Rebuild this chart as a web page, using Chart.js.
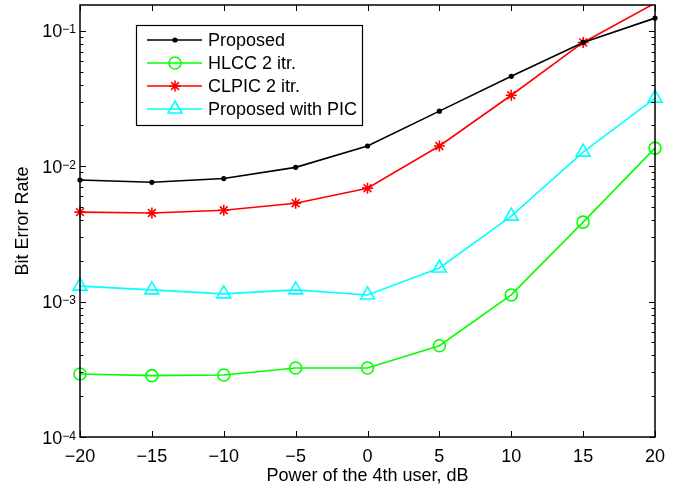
<!DOCTYPE html>
<html>
<head>
<meta charset="utf-8">
<script src="https://cdn.jsdelivr.net/npm/chart.js@4.4.1/dist/chart.umd.min.js"></script>
<style>
  html, body { margin: 0; padding: 0; background: #fff; }
  canvas { display: block; }
</style>
</head>
<body>
<canvas id="ber" width="686" height="488"></canvas>
<script>
// values
const powerDb = [-20, -15, -10, -5, 0, 5, 10, 15, 20];
const berProposed = [0.0079, 0.0076, 0.0081, 0.0098, 0.0141, 0.0255, 0.0461, 0.082, 0.124];
const berHlcc = [0.000292, 0.000284, 0.000287, 0.000323, 0.000323, 0.000472, 0.00112, 0.00386, 0.0136];
const berClpic = [0.00458, 0.00451, 0.00473, 0.00533, 0.00688, 0.0141, 0.0334, 0.082, 0.16];
const berPic = [0.0013, 0.00122, 0.00114, 0.00122, 0.00112, 0.00177, 0.00428, 0.0127, 0.0318];

const seriesNames = ['Proposed', 'HLCC 2 itr.', 'CLPIC 2 itr.', 'Proposed with PIC'];
const xTicks = [-20, -15, -10, -5, 0, 5, 10, 15, 20];
const yDecades = [1e-4, 1e-3, 1e-2, 1e-1];
const yExponents = ['\u22124', '\u22123', '\u22122', '\u22121'];
const yMin = 1e-4;
const yMax = 0.155;

const FONT = '"Liberation Sans", Arial, Helvetica, sans-serif';

function points(arr) {
    return powerDb.map((x, i) => ({ x: x, y: arr[i] }));
}

function series(label, arr, color, style, radius) {
    return {
        label: label,
        data: points(arr),
        borderColor: color,
        backgroundColor: color,
        borderWidth: 1.6,
        pointStyle: style,
        pointRadius: ctx => (ctx.raw && ctx.raw.y > yMax) ? 0 : radius,
        pointBorderWidth: 1.6,
        pointBackgroundColor: style === 'circle' && radius < 3 ? color : 'rgba(0,0,0,0)',
        pointBorderColor: color,
        markerSize: radius,
        tension: 0,
        clip: { left: 12, top: 0, right: 12, bottom: 12 }
    };
}

// frame, inward ticks, y labels with exponents, boxed legend
const axesBox = {
    id: 'axesBox',
    afterDatasetsDraw(chart) {
        const ctx = chart.ctx;
        const a = chart.chartArea;
        const x = chart.scales.x;
        const y = chart.scales.y;
        ctx.save();
        ctx.strokeStyle = '#000';
        ctx.lineWidth = 1;
        ctx.beginPath();
        xTicks.forEach(v => {
            const px = Math.round(x.getPixelForValue(v)) + 0.5;
            ctx.moveTo(px, a.bottom); ctx.lineTo(px, a.bottom - 6);
            ctx.moveTo(px, a.top); ctx.lineTo(px, a.top + 6);
        });
        yDecades.forEach(d => {
            for (let k = 1; k <= 9; k++) {
                const v = k * d;
                if (v > yMax) break;
                const len = k === 1 ? 6 : 3.5;
                const py = Math.round(y.getPixelForValue(v)) + 0.5;
                ctx.moveTo(a.left, py); ctx.lineTo(a.left + len, py);
                ctx.moveTo(a.right, py); ctx.lineTo(a.right - len, py);
            }
        });
        ctx.stroke();

        ctx.lineWidth = 1.5;
        ctx.strokeRect(a.left, a.top, a.right - a.left, a.bottom - a.top);

        // y tick labels 10^n
        ctx.fillStyle = '#000';
        ctx.textAlign = 'right';
        ctx.textBaseline = 'alphabetic';
        yDecades.forEach((d, i) => {
            const py = y.getPixelForValue(d);
            ctx.font = '12px ' + FONT;
            const ew = ctx.measureText(yExponents[i]).width;
            ctx.fillText(yExponents[i], a.left - 4, py + 2.5);
            ctx.font = '18px ' + FONT;
            ctx.fillText('10', a.left - 4 - ew, py + 6.5);
        });

        // legend
        const bx = 136, by = 25, bw = 226, bh = 100;
        ctx.fillStyle = '#fff';
        ctx.fillRect(bx, by, bw, bh);
        ctx.lineWidth = 1.2;
        ctx.strokeRect(bx + 0.5, by + 0.5, bw, bh);
        ctx.font = '18px ' + FONT;
        ctx.textAlign = 'left';
        ctx.textBaseline = 'middle';
        chart.data.datasets.forEach((ds, i) => {
            const ry = by + 15 + i * 23;
            ctx.strokeStyle = ds.borderColor;
            ctx.lineWidth = ds.borderWidth;
            ctx.beginPath();
            ctx.moveTo(bx + 11, ry);
            ctx.lineTo(bx + 66, ry);
            ctx.stroke();
            ctx.fillStyle = ds.pointBackgroundColor;
            ctx.lineWidth = ds.pointBorderWidth;
            Chart.helpers.drawPoint(ctx, {
                pointStyle: ds.pointStyle,
                radius: ds.markerSize,
                rotation: 0,
                borderWidth: ds.pointBorderWidth
            }, bx + 39, ry);
            ctx.fillStyle = '#000';
            ctx.fillText(seriesNames[i], bx + 72, ry + 1);
        });
        ctx.restore();
    }
};

new Chart(document.getElementById('ber'), {
    type: 'line',
    data: {
        datasets: [
            series(seriesNames[0], berProposed, '#000000', 'circle', 1.8),
            series(seriesNames[1], berHlcc, '#00ff00', 'circle', 6),
            series(seriesNames[2], berClpic, '#ff0000', 'star', 5.5),
            series(seriesNames[3], berPic, '#00ffff', 'triangle', 8)
        ]
    },
    options: {
        responsive: false,
        animation: false,
        devicePixelRatio: 1,
        layout: { autoPadding: false, padding: { left: 0, right: 31, top: 5, bottom: 0 } },
        plugins: {
            legend: { display: false },
            tooltip: { enabled: false }
        },
        scales: {
            x: {
                type: 'linear',
                min: -20,
                max: 20,
                afterFit: s => { s.height = 51; },
                grid: { display: false, drawTicks: false },
                border: { display: false },
                ticks: {
                    stepSize: 5,
                    padding: 9,
                    maxRotation: 0,
                    color: '#000',
                    font: { size: 18, family: FONT },
                    callback: v => String(v).replace('-', '\u2212')
                },
                title: {
                    display: true,
                    text: 'Power of the 4th user, dB',
                    color: '#000',
                    font: { size: 18, family: FONT },
                    padding: { top: 0, bottom: 1 }
                }
            },
            y: {
                type: 'logarithmic',
                min: yMin,
                max: yMax,
                afterFit: s => { s.width = 80; },
                grid: { display: false, drawTicks: false },
                border: { display: false },
                ticks: { display: false },
                title: {
                    display: true,
                    text: 'Bit Error Rate',
                    color: '#000',
                    font: { size: 18, family: FONT },
                    padding: { top: 12, bottom: 0 }
                }
            }
        }
    },
    plugins: [axesBox]
});
</script>
</body>
</html>
